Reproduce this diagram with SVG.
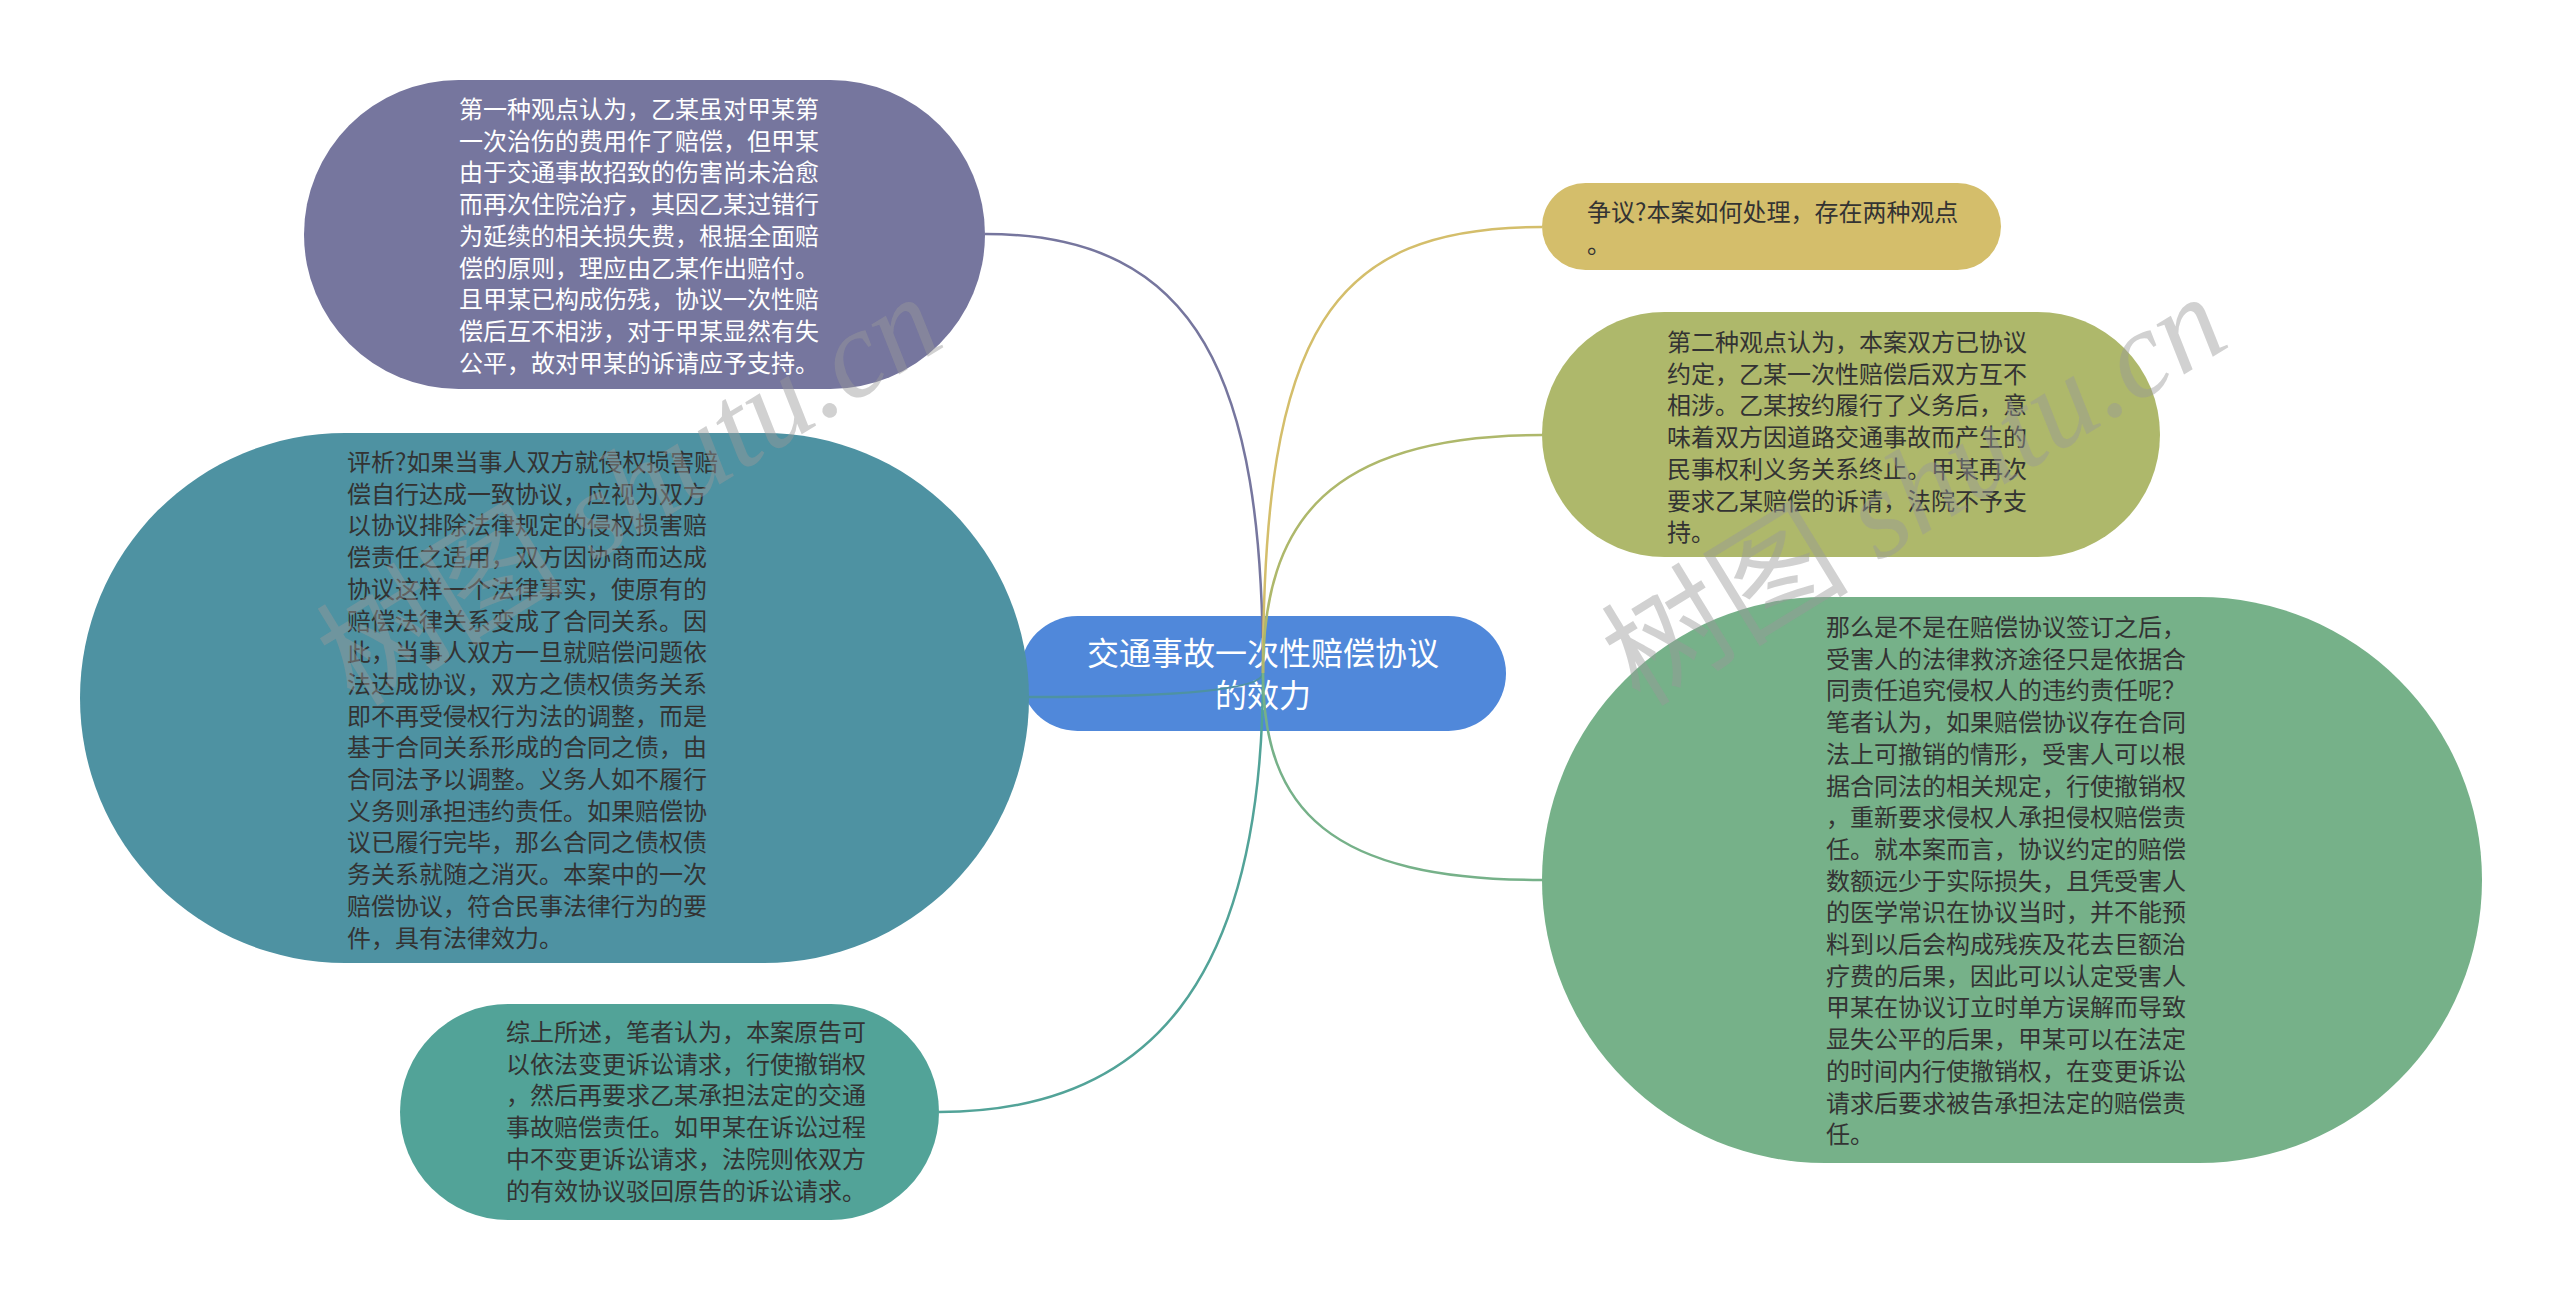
<svg xmlns="http://www.w3.org/2000/svg" width="2560" height="1299" viewBox="0 0 2560 1299">
<style>
.t{font-family:"Noto Sans CJK SC","Noto Sans",sans-serif;font-size:24px;fill:#333333}
.w{fill:#ffffff}
.c{font-family:"Noto Sans CJK SC","Noto Sans",sans-serif;font-size:32px;fill:#ffffff;text-anchor:middle}
.e{fill:none;stroke-width:2.5}
.wm{font-family:"Liberation Serif","Noto Sans CJK SC",serif;font-size:124px;fill:#9a9a9a;fill-opacity:0.45}
.it{font-style:italic}
</style>
<rect width="2560" height="1299" fill="#ffffff"/>
<g id="node-center">
<rect x="1020" y="616" width="486" height="115" rx="57.5" fill="#5088DA"/>
<text class="c" x="1263" y="665">交通事故一次性赔偿协议</text>
<text class="c" x="1263" y="707">的效力</text>
</g>
<g id="connectors">
<path class="e" stroke="#76769E" d="M1263,673 C1263,380 1200,234 985,234"/>
<path class="e" stroke="#4E92A2" d="M1263,673 Q1263,697 1029,697"/>
<path class="e" stroke="#52A398" d="M1263,673 C1263,980 1150,1112 939,1112"/>
<path class="e" stroke="#D4BE6B" d="M1263,673 C1263,330 1330,227 1542,227"/>
<path class="e" stroke="#AEB86B" d="M1263,673 C1263,520 1330,435 1542,435"/>
<path class="e" stroke="#76B189" d="M1263,673 C1263,810 1330,880 1542,880"/>
</g>
<g id="node-view1">
<rect x="304" y="80" width="681" height="309" rx="154.5" fill="#76769E"/>
<text class="t w">
<tspan x="459" y="118">第一种观点认为，乙某虽对甲某第</tspan>
<tspan x="459" y="149.7">一次治伤的费用作了赔偿，但甲某</tspan>
<tspan x="459" y="181.4">由于交通事故招致的伤害尚未治愈</tspan>
<tspan x="459" y="213.1">而再次住院治疗，其因乙某过错行</tspan>
<tspan x="459" y="244.8">为延续的相关损失费，根据全面赔</tspan>
<tspan x="459" y="276.5">偿的原则，理应由乙某作出赔付。</tspan>
<tspan x="459" y="308.2">且甲某已构成伤残，协议一次性赔</tspan>
<tspan x="459" y="339.9">偿后互不相涉，对于甲某显然有失</tspan>
<tspan x="459" y="371.6">公平，故对甲某的诉请应予支持。</tspan>
</text>
</g>
<g id="node-analysis">
<rect x="80" y="433" width="949" height="530" rx="265" fill="#4E92A2"/>
<text class="t">
<tspan x="347" y="471">评析?如果当事人双方就侵权损害赔</tspan>
<tspan x="347" y="502.7">偿自行达成一致协议，应视为双方</tspan>
<tspan x="347" y="534.4">以协议排除法律规定的侵权损害赔</tspan>
<tspan x="347" y="566.1">偿责任之适用，双方因协商而达成</tspan>
<tspan x="347" y="597.8">协议这样一个法律事实，使原有的</tspan>
<tspan x="347" y="629.5">赔偿法律关系变成了合同关系。因</tspan>
<tspan x="347" y="661.2">此，当事人双方一旦就赔偿问题依</tspan>
<tspan x="347" y="692.9">法达成协议，双方之债权债务关系</tspan>
<tspan x="347" y="724.6">即不再受侵权行为法的调整，而是</tspan>
<tspan x="347" y="756.3">基于合同关系形成的合同之债，由</tspan>
<tspan x="347" y="788">合同法予以调整。义务人如不履行</tspan>
<tspan x="347" y="819.7">义务则承担违约责任。如果赔偿协</tspan>
<tspan x="347" y="851.4">议已履行完毕，那么合同之债权债</tspan>
<tspan x="347" y="883.1">务关系就随之消灭。本案中的一次</tspan>
<tspan x="347" y="914.8">赔偿协议，符合民事法律行为的要</tspan>
<tspan x="347" y="946.5">件，具有法律效力。</tspan>
</text>
</g>
<g id="node-summary">
<rect x="400" y="1004" width="539" height="216" rx="108" fill="#52A398"/>
<text class="t">
<tspan x="506" y="1041">综上所述，笔者认为，本案原告可</tspan>
<tspan x="506" y="1072.7">以依法变更诉讼请求，行使撤销权</tspan>
<tspan x="506" y="1104.4">，然后再要求乙某承担法定的交通</tspan>
<tspan x="506" y="1136.1">事故赔偿责任。如甲某在诉讼过程</tspan>
<tspan x="506" y="1167.8">中不变更诉讼请求，法院则依双方</tspan>
<tspan x="506" y="1199.5">的有效协议驳回原告的诉讼请求。</tspan>
</text>
</g>
<g id="node-dispute">
<rect x="1542" y="183" width="459" height="87" rx="43.5" fill="#D4BE6B"/>
<text class="t">
<tspan x="1587" y="221">争议?本案如何处理，存在两种观点</tspan>
<tspan x="1587" y="252.7">。</tspan>
</text>
</g>
<g id="node-view2">
<rect x="1542" y="312" width="618" height="245" rx="122.5" fill="#AEB86B"/>
<text class="t">
<tspan x="1667" y="351">第二种观点认为，本案双方已协议</tspan>
<tspan x="1667" y="382.7">约定，乙某一次性赔偿后双方互不</tspan>
<tspan x="1667" y="414.4">相涉。乙某按约履行了义务后，意</tspan>
<tspan x="1667" y="446.1">味着双方因道路交通事故而产生的</tspan>
<tspan x="1667" y="477.8">民事权利义务关系终止。甲某再次</tspan>
<tspan x="1667" y="509.5">要求乙某赔偿的诉请，法院不予支</tspan>
<tspan x="1667" y="541.2">持。</tspan>
</text>
</g>
<g id="node-remedy">
<rect x="1542" y="597" width="940" height="566" rx="283" fill="#76B189"/>
<text class="t">
<tspan x="1826" y="636">那么是不是在赔偿协议签订之后，</tspan>
<tspan x="1826" y="667.7">受害人的法律救济途径只是依据合</tspan>
<tspan x="1826" y="699.4">同责任追究侵权人的违约责任呢？</tspan>
<tspan x="1826" y="731.1">笔者认为，如果赔偿协议存在合同</tspan>
<tspan x="1826" y="762.8">法上可撤销的情形，受害人可以根</tspan>
<tspan x="1826" y="794.5">据合同法的相关规定，行使撤销权</tspan>
<tspan x="1826" y="826.2">，重新要求侵权人承担侵权赔偿责</tspan>
<tspan x="1826" y="857.9">任。就本案而言，协议约定的赔偿</tspan>
<tspan x="1826" y="889.6">数额远少于实际损失，且凭受害人</tspan>
<tspan x="1826" y="921.3">的医学常识在协议当时，并不能预</tspan>
<tspan x="1826" y="953">料到以后会构成残疾及花去巨额治</tspan>
<tspan x="1826" y="984.7">疗费的后果，因此可以认定受害人</tspan>
<tspan x="1826" y="1016.4">甲某在协议订立时单方误解而导致</tspan>
<tspan x="1826" y="1048.1">显失公平的后果，甲某可以在法定</tspan>
<tspan x="1826" y="1079.8">的时间内行使撤销权，在变更诉讼</tspan>
<tspan x="1826" y="1111.5">请求后要求被告承担法定的赔偿责</tspan>
<tspan x="1826" y="1143.2">任。</tspan>
</text>
</g>
<g id="watermarks">
<text class="wm" transform="translate(355,708) rotate(-31.5)">树图 <tspan class="it">shutu.cn</tspan></text>
<text class="wm" transform="translate(1640,708) rotate(-31.5)">树图 <tspan class="it">shutu.cn</tspan></text>
</g>
</svg>
